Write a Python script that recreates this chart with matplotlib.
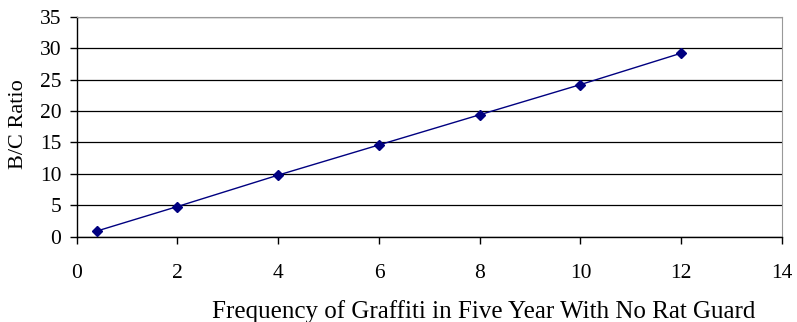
#!/usr/bin/env python3

# Import special modules ...
import matplotlib
matplotlib.use("Agg")
import matplotlib.pyplot

# Data: graffiti frequency against benefit/cost ratio ...
freq = [0.4, 2, 4, 6, 8, 10, 12]
bcRatio = [0.9, 4.8, 9.8, 14.6, 19.4, 24.2, 29.2]

matplotlib.pyplot.rcParams["font.family"] = ["Liberation Serif", "DejaVu Serif"]

# Create figure ...
fg = matplotlib.pyplot.figure(figsize = (7.97, 3.22), dpi = 100)
ax = fg.add_axes([76.7 / 797, 1 - 236.7 / 322, (782 - 76.7) / 797, (236.7 - 16.7) / 322])

# Plot series ...
ax.plot(freq, bcRatio, color = "#000080", linewidth = 1.0, marker = "D", markersize = 5, zorder = 3)

# Configure axis ...
ax.set_xlim(0, 14)
ax.set_ylim(0, 35)
ax.set_xticks(range(0, 15, 2))
ax.set_yticks(range(0, 36, 5))
ax.yaxis.grid(True, color = "black", linewidth = 0.9)
ax.set_axisbelow(True)
for side in ["top", "right"]:
    ax.spines[side].set_color("#999999")
for side in ["left", "bottom"]:
    ax.spines[side].set_color("black")
    ax.spines[side].set_linewidth(1.0)
ax.tick_params(axis = "both", direction = "out", length = 5, width = 1.0, labelsize = 15.5, colors = "black")
ax.tick_params(axis = "x", pad = 15)
ax.tick_params(axis = "y", pad = 6)
ax.set_xlabel("Frequency of Graffiti in Five Year With No Rat Guard", fontsize = 18)
ax.xaxis.set_label_coords(0.577, -0.338)
ax.xaxis.label.set_verticalalignment("center")
ax.set_ylabel("B/C Ratio", fontsize = 16, horizontalalignment = "center", verticalalignment = "center")
ax.yaxis.set_label_coords(-0.083, 0.513)

# Save figure ...
fg.savefig("out.png", dpi = 100)
matplotlib.pyplot.close(fg)
